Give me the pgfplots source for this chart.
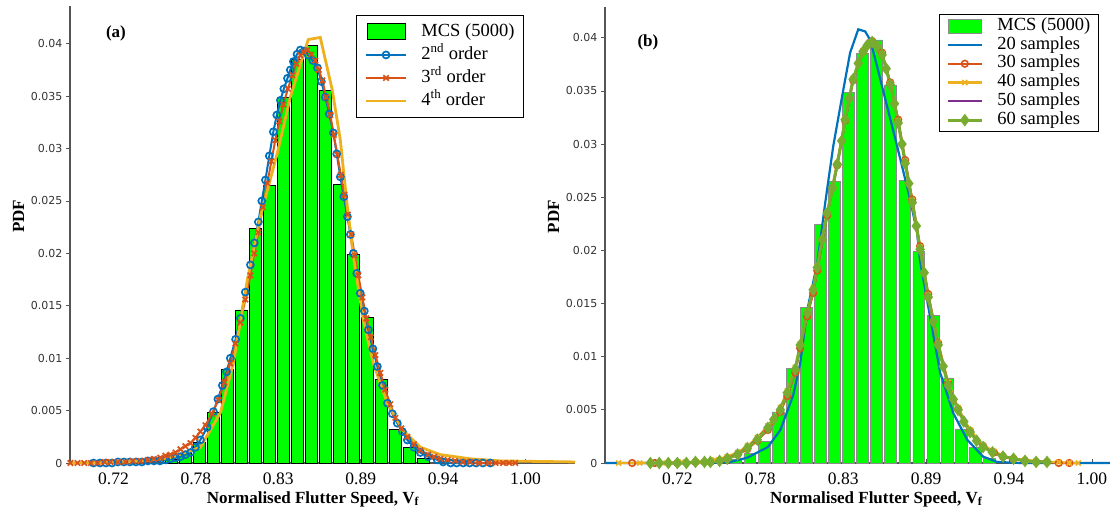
\documentclass[border=0pt]{standalone}
\usepackage{fontspec}
\setmainfont{Liberation Serif}
\newfontfamily\ticksans{DejaVu Sans}
\usepackage{pgfplots}
\usepackage{pgfplotstable}
\pgfplotsset{compat=1.18}

\definecolor{mblue}{RGB}{0,114,189}
\definecolor{mred}{RGB}{217,83,25}
\definecolor{myel}{RGB}{237,177,32}
\definecolor{mpur}{RGB}{126,47,142}
\definecolor{mgrn}{RGB}{119,172,48}
\definecolor{barg}{RGB}{0,255,0}
\definecolor{axgray}{RGB}{85,85,85}

\pgfplotstableread{
x y
0.7588 0.0003
0.7681 0.0009
0.7775 0.0020
0.7868 0.0048
0.7962 0.0089
0.8055 0.0146
0.8148 0.0224
0.8242 0.0265
0.8335 0.0349
0.8429 0.0385
0.8522 0.0398
0.8615 0.0355
0.8709 0.0266
0.8802 0.0199
0.8896 0.0139
0.8989 0.0080
0.9082 0.0032
0.9176 0.0015
0.9269 0.0004
}\histdata

% ---- panel (a) curves
\pgfplotstableread{
x y
0.7067 0.0000
0.7110 0.0000
0.7150 0.0000
0.7190 0.0000
0.7230 0.0001
0.7270 0.0001
0.7310 0.0001
0.7350 0.0001
0.7390 0.0001
0.7430 0.0002
0.7470 0.0002
0.7510 0.0002
0.7550 0.0003
0.7580 0.0004
0.7615 0.0005
0.7647 0.0006
0.7680 0.0008
0.7714 0.0010
0.7747 0.0015
0.7780 0.0022
0.7825 0.0034
0.7867 0.0049
0.7897 0.0061
0.7927 0.0074
0.7955 0.0087
0.7980 0.0100
0.8015 0.0118
0.8047 0.0138
0.8080 0.0163
0.8114 0.0189
0.8140 0.0210
0.8167 0.0230
0.8190 0.0250
0.8214 0.0270
0.8240 0.0293
0.8267 0.0316
0.8290 0.0332
0.8314 0.0346
0.8337 0.0357
0.8361 0.0367
0.8380 0.0375
0.8401 0.0383
0.8425 0.0390
0.8447 0.0394
0.8473 0.0393
0.8500 0.0389
0.8530 0.0384
0.8561 0.0377
0.8587 0.0364
0.8614 0.0349
0.8640 0.0333
0.8667 0.0315
0.8690 0.0295
0.8714 0.0273
0.8737 0.0254
0.8761 0.0235
0.8781 0.0218
0.8801 0.0200
0.8824 0.0181
0.8847 0.0162
0.8874 0.0145
0.8901 0.0127
0.8931 0.0109
0.8961 0.0092
0.8995 0.0074
0.9028 0.0057
0.9061 0.0047
0.9094 0.0038
0.9128 0.0030
0.9161 0.0022
0.9205 0.0015
0.9248 0.0010
0.9300 0.0006
0.9361 0.0003
0.9400 0.0001
0.9450 0.0000
0.9490 0.0000
0.9534 0.0000
0.9577 0.0000
0.9620 0.0000
0.9665 0.0000
0.9715 0.0000
}\seca

\pgfplotstableread{
x y
0.6913 0.0000
0.6960 0.0000
0.7005 0.0000
0.7050 0.0000
0.7095 0.0000
0.7140 0.0001
0.7180 0.0001
0.7230 0.0001
0.7280 0.0001
0.7330 0.0002
0.7380 0.0002
0.7430 0.0003
0.7470 0.0004
0.7513 0.0005
0.7547 0.0007
0.7580 0.0008
0.7614 0.0010
0.7647 0.0013
0.7680 0.0016
0.7714 0.0019
0.7747 0.0024
0.7780 0.0030
0.7814 0.0036
0.7857 0.0047
0.7900 0.0060
0.7940 0.0077
0.7980 0.0095
0.8014 0.0114
0.8047 0.0134
0.8080 0.0156
0.8114 0.0179
0.8140 0.0200
0.8167 0.0220
0.8197 0.0244
0.8227 0.0267
0.8254 0.0288
0.8280 0.0308
0.8307 0.0326
0.8334 0.0342
0.8364 0.0357
0.8394 0.0370
0.8420 0.0381
0.8447 0.0389
0.8470 0.0392
0.8494 0.0394
0.8520 0.0390
0.8547 0.0384
0.8570 0.0375
0.8594 0.0365
0.8620 0.0349
0.8647 0.0332
0.8670 0.0313
0.8694 0.0294
0.8717 0.0275
0.8741 0.0256
0.8764 0.0237
0.8787 0.0218
0.8810 0.0198
0.8834 0.0179
0.8861 0.0158
0.8888 0.0138
0.8918 0.0120
0.8948 0.0103
0.8981 0.0086
0.9014 0.0070
0.9047 0.0056
0.9081 0.0043
0.9121 0.0033
0.9161 0.0025
0.9205 0.0018
0.9248 0.0012
0.9300 0.0008
0.9340 0.0006
0.9381 0.0004
0.9430 0.0003
0.9480 0.0002
0.9530 0.0001
0.9581 0.0001
0.9640 0.0000
0.9700 0.0000
0.9750 0.0000
0.9800 0.0000
0.9840 0.0000
0.9881 0.0000
}\thia

\pgfplotstableread{
x y
0.6913 0.0000
0.7313 0.0001
0.7580 0.0005
0.7780 0.0015
0.7914 0.0048
0.8000 0.0095
0.8094 0.0175
0.8180 0.0235
0.8294 0.0296
0.8380 0.0349
0.8447 0.0380
0.8500 0.0404
0.8580 0.0406
0.8660 0.0356
0.8714 0.0308
0.8761 0.0244
0.8801 0.0197
0.8868 0.0136
0.8934 0.0095
0.9028 0.0057
0.9134 0.0031
0.9248 0.0015
0.9381 0.0008
0.9581 0.0004
0.9781 0.0002
1.0280 0.0001
}\foua

% ---- panel (b) curves
\pgfplotstableread{
x y
0.6723 0.0000
0.7352 0.0000
0.7551 0.0001
0.7664 0.0005
0.7800 0.0015
0.7883 0.0031
0.7969 0.0064
0.8015 0.0094
0.8062 0.0144
0.8128 0.0188
0.8181 0.0245
0.8234 0.0298
0.8293 0.0345
0.8346 0.0386
0.8400 0.0408
0.8446 0.0406
0.8479 0.0398
0.8525 0.0373
0.8592 0.0335
0.8658 0.0298
0.8744 0.0248
0.8790 0.0217
0.8810 0.0190
0.8877 0.0137
0.8943 0.0085
0.9030 0.0047
0.9122 0.0022
0.9228 0.0006
0.9321 0.0001
0.9473 0.0000
1.0070 0.0000
}\stwenty

\pgfplotstableread{
x y
0.6900 0.0000
0.7050 0.0000
0.7200 0.0000
0.7320 0.0001
0.7420 0.0001
0.7530 0.0004
0.7600 0.0008
0.7664 0.0013
0.7730 0.0021
0.7800 0.0031
0.7883 0.0048
0.7929 0.0063
0.7982 0.0085
0.8015 0.0108
0.8062 0.0138
0.8101 0.0160
0.8128 0.0181
0.8194 0.0233
0.8260 0.0280
0.8313 0.0322
0.8366 0.0360
0.8432 0.0387
0.8492 0.0397
0.8558 0.0386
0.8612 0.0358
0.8665 0.0323
0.8711 0.0285
0.8758 0.0248
0.8810 0.0204
0.8864 0.0159
0.8930 0.0113
0.8996 0.0075
0.9062 0.0051
0.9142 0.0030
0.9228 0.0016
0.9300 0.0010
0.9360 0.0006
0.9430 0.0004
0.9506 0.0002
0.9580 0.0001
0.9652 0.0001
0.9730 0.0000
0.9800 0.0000
}\sthirty

\pgfplotstableread{
x y
0.6810 0.0000
0.6950 0.0000
0.7100 0.0000
0.7230 0.0001
0.7350 0.0001
0.7450 0.0003
0.7530 0.0006
0.7600 0.0010
0.7664 0.0016
0.7730 0.0024
0.7800 0.0035
0.7883 0.0052
0.7929 0.0068
0.7982 0.0090
0.8015 0.0112
0.8062 0.0142
0.8101 0.0164
0.8128 0.0185
0.8194 0.0236
0.8260 0.0282
0.8313 0.0324
0.8366 0.0362
0.8432 0.0388
0.8492 0.0396
0.8558 0.0385
0.8612 0.0357
0.8665 0.0322
0.8711 0.0284
0.8758 0.0247
0.8810 0.0203
0.8864 0.0158
0.8930 0.0113
0.8996 0.0076
0.9062 0.0052
0.9142 0.0031
0.9228 0.0017
0.9300 0.0011
0.9360 0.0007
0.9430 0.0004
0.9506 0.0003
0.9580 0.0002
0.9652 0.0001
0.9730 0.0001
0.9800 0.0000
0.9860 0.0000
}\sforty

\pgfplotstableread{
x y
0.7021 0.0000
0.7220 0.0000
0.7419 0.0001
0.7531 0.0004
0.7664 0.0014
0.7800 0.0033
0.7883 0.0050
0.7929 0.0066
0.7982 0.0087
0.8015 0.0110
0.8062 0.0140
0.8101 0.0162
0.8128 0.0183
0.8194 0.0234
0.8260 0.0280
0.8313 0.0322
0.8366 0.0361
0.8432 0.0388
0.8492 0.0397
0.8558 0.0385
0.8612 0.0357
0.8665 0.0321
0.8711 0.0283
0.8758 0.0246
0.8810 0.0202
0.8864 0.0157
0.8930 0.0111
0.8996 0.0074
0.9062 0.0050
0.9142 0.0029
0.9228 0.0015
0.9360 0.0006
0.9506 0.0002
0.9652 0.0001
}\sfifty

\pgfplotstableread{
x y
0.7021 0.0000
0.7080 0.0000
0.7140 0.0000
0.7200 0.0000
0.7260 0.0000
0.7320 0.0001
0.7380 0.0001
0.7419 0.0001
0.7480 0.0002
0.7531 0.0004
0.7600 0.0008
0.7664 0.0014
0.7730 0.0022
0.7800 0.0033
0.7840 0.0041
0.7883 0.0050
0.7929 0.0066
0.7982 0.0088
0.8015 0.0111
0.8062 0.0141
0.8101 0.0163
0.8128 0.0184
0.8160 0.0210
0.8194 0.0235
0.8230 0.0259
0.8260 0.0281
0.8290 0.0303
0.8313 0.0323
0.8340 0.0343
0.8366 0.0361
0.8400 0.0376
0.8432 0.0387
0.8460 0.0393
0.8492 0.0396
0.8525 0.0392
0.8558 0.0384
0.8585 0.0371
0.8612 0.0356
0.8640 0.0338
0.8665 0.0320
0.8690 0.0300
0.8711 0.0282
0.8735 0.0263
0.8758 0.0245
0.8785 0.0223
0.8810 0.0201
0.8837 0.0179
0.8864 0.0156
0.8897 0.0133
0.8930 0.0111
0.8963 0.0091
0.8996 0.0073
0.9030 0.0060
0.9062 0.0050
0.9100 0.0039
0.9142 0.0029
0.9185 0.0021
0.9228 0.0015
0.9290 0.0010
0.9360 0.0006
0.9430 0.0004
0.9506 0.0002
0.9580 0.0001
0.9652 0.0001
}\ssixty

\pgfplotsset{
  panel/.style={
    scale only axis,
    width=505pt,
    axis x line*=bottom, axis y line*=left,
    axis line style={axgray, line width=1.1pt, -},
    ymin=0,
    xtick={0.72,0.775,0.83,0.885,0.94,0.995},
    xticklabels={0.72,0.78,0.83,0.89,0.94,1.00},
    ytick={0,0.005,0.01,0.015,0.02,0.025,0.03,0.035,0.04},
    yticklabels={0,0.005,0.01,0.015,0.02,0.025,0.03,0.035,0.04},
    scaled y ticks=false, scaled x ticks=false,
    xtick align=inside, ytick align=outside,
    major tick length=4pt,
    tick style={axgray, line width=0.8pt},
    yticklabel style={font=\fontsize{11}{13}\selectfont\ticksans, text=black!80},
    xticklabel style={font=\fontsize{17.5}{20}\selectfont, yshift=-6pt},
    xlabel={\textbf{Normalised Flutter Speed, V\textsubscript{f}}},
    ylabel={\textbf{PDF}},
    label style={font=\fontsize{17}{20}\selectfont},
    clip=false,
    legend cell align=left,
    legend style={font=\fontsize{18.5}{20}\selectfont, draw=black, line width=1.1pt,
      nodes={inner sep=1pt, text height=12.5pt, text depth=4pt}},
  },
  hist/.style={ybar, bar width=0.0078, bar shift=0pt, fill=barg},
  legA/.style={legend image code/.code={\draw[mark repeat=2,mark phase=2,##1] plot coordinates {(0pt,0pt) (20pt,0pt) (40pt,0pt)};}},
  legB/.style={legend image code/.code={\draw[mark repeat=2,mark phase=2,##1] plot coordinates {(0pt,0pt) (17pt,0pt) (34pt,0pt)};}},
  histlegA/.style={legend image code/.code={\draw[##1] (1pt,-8pt) rectangle (39pt,8pt);}},
  histlegB/.style={legend image code/.code={\draw[##1] (1pt,-7pt) rectangle (34pt,7pt);}},
}

\begin{document}
\begin{tikzpicture}
\path[use as bounding box] (0,0) rectangle (1110pt,522pt);

% ===== (a)
\begin{axis}[panel,
  at={(70pt,59pt)}, anchor=south west,
  height=457pt,
  xmin=0.691, xmax=1.028, ymax=0.0436,
  xlabel style={at={(ticklabel cs:0.481)}},
  ylabel style={at={(ticklabel cs:0.54)}},
  legend style={at={(rel axis cs:0.899,0.98)}, anchor=north east, row sep=4.5pt,
    column sep=13pt, inner xsep=8pt, inner ysep=7pt},
  legA,
]
\addplot[hist, draw=black, line width=0.9pt, histlegA] table {\histdata};
\addlegendentry{MCS (5000)}
\addplot[mblue, line width=2pt, mark=o, mark size=3.5pt, mark options={solid, line width=1.7pt}] table {\seca};
\addlegendentry{2\textsuperscript{nd} order}
\addplot[mred, line width=2pt, mark=x, mark size=3.8pt, mark options={solid, line width=1.7pt}] table {\thia};
\addlegendentry{3\textsuperscript{rd} order}
\addplot[myel, line width=2.8pt] table {\foua};
\addlegendentry{4\textsuperscript{th} order}
\node[font=\fontsize{17}{20}\selectfont\bfseries] at (rel axis cs:0.091,0.939) {(a)};
\end{axis}

% ===== (b)
\begin{axis}[panel,
  at={(605pt,59pt)}, anchor=south west,
  height=456pt,
  xmin=0.672, xmax=1.007, ymax=0.0429,
  xlabel style={at={(ticklabel cs:0.537)}},
  ylabel style={at={(ticklabel cs:0.54)}},
  legend style={at={(rel axis cs:0.978,0.985)}, anchor=north east, row sep=1.3pt,
    column sep=13pt, inner xsep=7pt, inner ysep=3pt,
    nodes={text height=12pt, text depth=3.5pt}},
  legB,
]
\addplot[hist, draw=black!45, line width=0.8pt, histlegB] table {\histdata};
\addlegendentry{MCS (5000)}
\addplot[mblue, line width=2.2pt] table {\stwenty};
\addlegendentry{20 samples}
\addplot[mred, line width=2.2pt, mark=o, mark size=3.3pt, mark options={solid, line width=1.6pt}] table {\sthirty};
\addlegendentry{30 samples}
\addplot[myel, line width=2.2pt, mark=x, mark size=3.5pt, mark options={solid, line width=1.6pt}] table {\sforty};
\addlegendentry{40 samples}
\addplot[mpur, line width=2.2pt] table {\sfifty};
\addlegendentry{50 samples}
\addplot[mgrn, line width=3pt, mark=diamond*, mark size=3.9pt, mark options={solid, fill=mgrn}] table {\ssixty};
\addlegendentry{60 samples}
\node[font=\fontsize{17}{20}\selectfont\bfseries] at (rel axis cs:0.085,0.923) {(b)};
\end{axis}
\end{tikzpicture}
\end{document}
